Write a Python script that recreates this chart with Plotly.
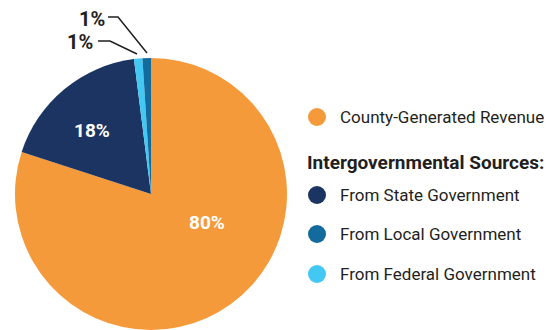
import plotly.graph_objects as go

# ---- data ----
labels = ["County-Generated Revenue", "From State Government",
          "From Federal Government", "From Local Government"]
values = [80, 18, 1, 1]
colors = ["#F59A3B", "#1B3461", "#43C8F4", "#136A9D"]

legend_labels = ["County-Generated Revenue", "From State Government",
                 "From Local Government", "From Federal Government"]
legend_colors = ["#F59A3B", "#1B3461", "#136A9D", "#43C8F4"]
legend_header = "Intergovernmental Sources:"

W, H = 558, 330
FONT = "Roboto, Arial, sans-serif"
TXT = "#231F20"


def px(x):
    return x / W


def py(y):
    return 1 - y / H


cx, cy, r = 151, 194, 136

fig = go.Figure()
fig.add_trace(go.Pie(
    labels=labels, values=values, sort=False, direction="clockwise", rotation=0,
    marker=dict(colors=colors, line=dict(width=0)),
    textinfo="none", hoverinfo="label+percent", showlegend=False,
    domain=dict(x=[px(cx - r), px(cx + r)], y=[py(cy + r), py(cy - r)]),
))

annotations = []
shapes = []

# percentage labels on the pie
pct_pos = {0: (207, 222, "white", 19), 1: (92, 130, "white", 19),
           2: (80, 42, TXT, 20), 3: (92, 19, TXT, 20)}
for i, (x, y, col, sz) in pct_pos.items():
    annotations.append(dict(
        x=px(x), y=py(y), xref="paper", yref="paper", showarrow=False,
        text=f"<b>{values[i]}%</b>", font=dict(family=FONT, size=sz, color=col),
        xanchor="center", yanchor="middle"))

# leader lines for small slices
leaders = [[(98, 41), (110, 41), (137, 54)], [(108, 17), (118, 17), (147, 53)]]
for pts in leaders:
    path = "M " + " L ".join(f"{px(x)},{py(y)}" for x, y in pts)
    shapes.append(dict(type="path", path=path, xref="paper", yref="paper",
                       line=dict(color=TXT, width=1.5)))

# legend
rows_y = [117, 195, 234, 274]
for lab, col, y in zip(legend_labels, legend_colors, rows_y):
    shapes.append(dict(type="circle", xref="paper", yref="paper",
                       x0=px(317 - 9), x1=px(317 + 9), y0=py(y + 9), y1=py(y - 9),
                       fillcolor=col, line=dict(width=0)))
    annotations.append(dict(
        x=px(338), y=py(y), xref="paper", yref="paper", showarrow=False,
        text=lab, font=dict(family=FONT, size=17, color=TXT),
        xanchor="left", yanchor="middle"))
annotations.append(dict(
    x=px(305), y=py(162), xref="paper", yref="paper", showarrow=False,
    text=f"<b>{legend_header}</b>", font=dict(family=FONT, size=19, color=TXT),
    xanchor="left", yanchor="middle"))

fig.update_layout(
    width=W, height=H, margin=dict(l=0, r=0, t=0, b=0),
    paper_bgcolor="white", plot_bgcolor="white",
    annotations=annotations, shapes=shapes,
)
fig.write_html("out.html")
